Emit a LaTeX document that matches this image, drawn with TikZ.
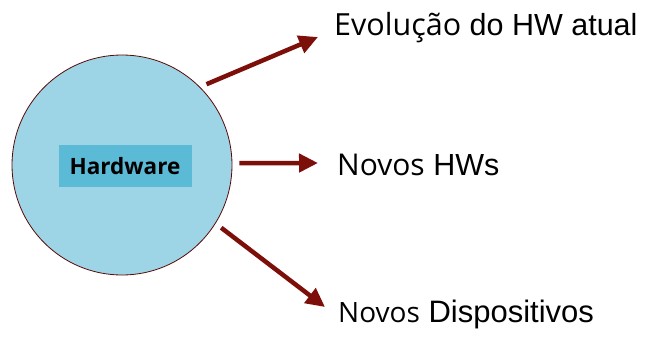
\documentclass[tikz,border=0pt]{standalone}
\usepackage{fontspec}
\newfontfamily\rotfont{Open Sans}
\newfontfamily\hwfont{Liberation Sans}
\usetikzlibrary{arrows.meta}
\definecolor{bolha}{HTML}{9DD5E7}
\definecolor{caixa}{HTML}{5BBAD5}
\definecolor{seta}{HTML}{7D0F0A}
\begin{document}
\begin{tikzpicture}[x=1pt,y=-1pt,
  ramo/.style={seta,line width=4.5pt,-{Triangle[length=19pt,width=18pt]},shorten <=7pt},
  rotulo/.style={anchor=base west,inner sep=0pt,font=\hwfont\fontsize{30.5}{36}\selectfont}]
\useasboundingbox (0,0) rectangle (645,338);
\node[circle,draw=seta!70!black,line width=0.8pt,fill=bolha,minimum size=220pt,inner sep=0pt] (hw) at (122,165) {};
\node[fill=caixa,minimum width=133pt,minimum height=42pt,inner sep=0pt,
  font=\rotfont\bfseries\fontsize{22.5}{26}\selectfont] (hwbox) at (125,166) {Hardware};
% rotulos
\node[rotulo] (evo) at (334,35) {{\rotfont\fontsize{30.5}{36}\selectfont Evolução} do HW atual};
\node[rotulo] (novos) at (337,175) {{\rotfont\fontsize{30}{36}\selectfont Novos} HWs};
\node[rotulo,font=\hwfont\fontsize{31}{36}\selectfont] (disp) at (338,322) {{\rotfont\fontsize{28}{32}\selectfont Novos} Dispositivos};
% pontas das setas
\coordinate (pevo) at (318,37);
\coordinate (pnovos) at (318,163);
\coordinate (pdisp) at (325,307);
\draw[ramo] (hw.45) -- (pevo);
\draw[ramo] (hw.1) -- (pnovos);
\draw[ramo] (hw.-32) -- (pdisp);
\end{tikzpicture}
\end{document}
